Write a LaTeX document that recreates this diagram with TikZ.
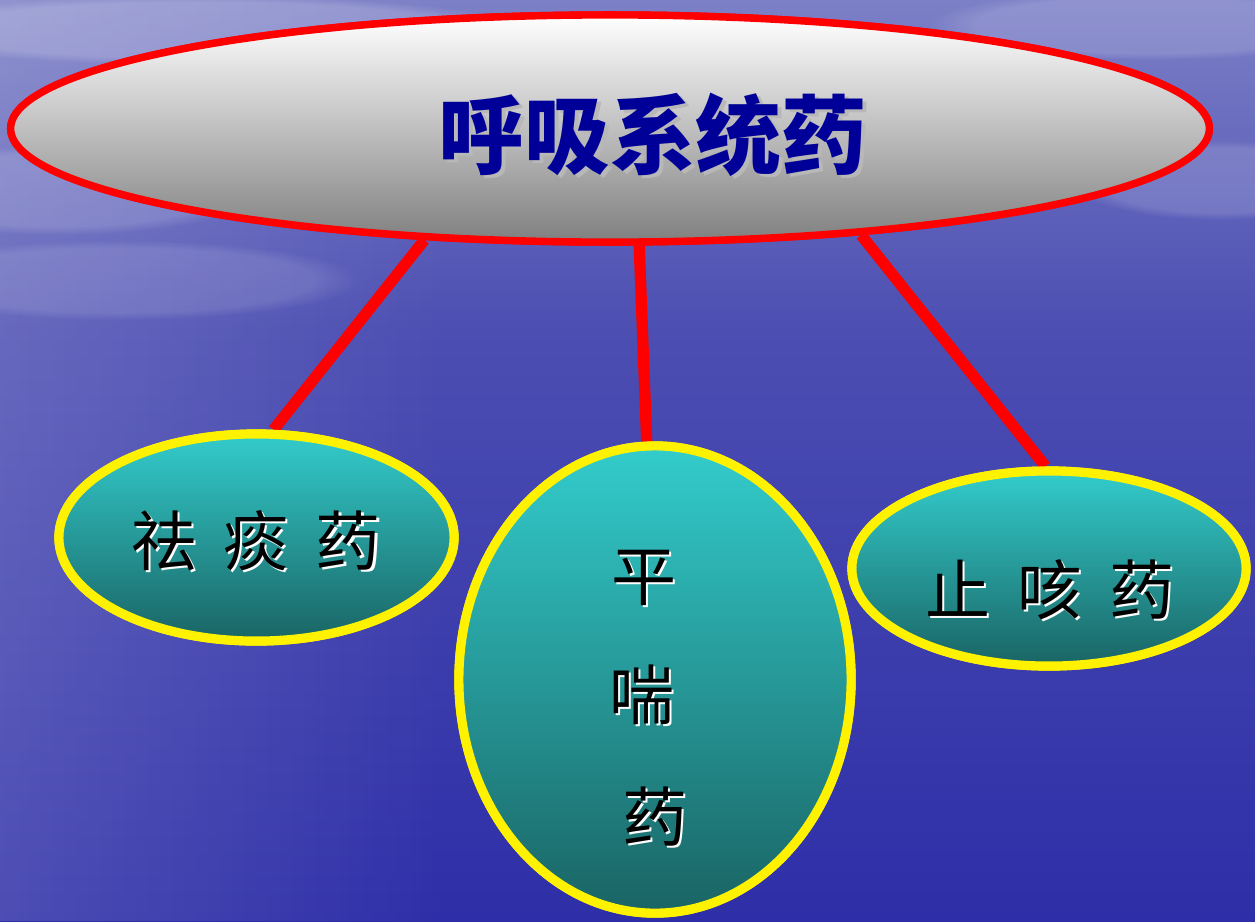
\documentclass[tikz,border=0pt]{standalone}
\usepackage{fontspec}
\newfontfamily\cjk{Noto Sans CJK SC}
\usetikzlibrary{shapes.geometric,fadings}
\definecolor{bgtop}{HTML}{7C80C6}
\definecolor{bgmid}{HTML}{4C4EB2}
\definecolor{bgbot}{HTML}{2E2EA8}
\definecolor{teal1}{HTML}{33CCCC}
\definecolor{teal2}{HTML}{1A6464}
\definecolor{titleblue}{HTML}{000099}
\tikzset{
  topbox/.style={ellipse, draw=red, line width=2.1pt, top color=white, bottom color=black!50, inner sep=0pt},
  subbox/.style={ellipse, draw=yellow, line width=2.6pt, top color=teal1, bottom color=teal2, inner sep=0pt},
  link/.style={red, line width=3.2pt},
  subtext/.style={font=\cjk\fontsize{18.5}{22}\selectfont, inner sep=0pt},
  cloud/.style={white, path fading=circle with fuzzy edge 20 percent}
}
\newcommand{\gapsp}{\hspace{0.27cm}}
\begin{document}
\begin{tikzpicture}[x=0.01cm, y=-0.01cm]
\useasboundingbox (0,0) rectangle (1255,921);
% background
\fill[top color=bgtop, bottom color=bgmid] (0,0) rectangle (1255,330);
\fill[top color=bgmid, bottom color=bgbot] (0,330) rectangle (1255,921);
\fill[white, path fading=east, fill opacity=0.15] (0,0) rectangle (450,921);
\fill[cloud, fill opacity=0.18] (200,30) ellipse (320 and 35);
\fill[cloud, fill opacity=0.15] (60,190) ellipse (200 and 45);
\fill[cloud, fill opacity=0.15] (1150,25) ellipse (220 and 35);
\fill[cloud, fill opacity=0.15] (1220,180) ellipse (150 and 40);
\fill[cloud, fill opacity=0.12] (120,280) ellipse (240 and 40);

% nodes
\node[topbox, minimum width=11.98cm, minimum height=2.27cm] (T) at (610,128.5) {};
\node[subbox, minimum width=3.95cm, minimum height=2.07cm] (L) at (256.5,537.5) {};
\node[subbox, minimum width=3.92cm, minimum height=4.67cm] (M) at (655,679.5) {};
\node[subbox, minimum width=3.94cm, minimum height=1.95cm] (R) at (1049,568.5) {};

% connectors
\draw[link] (T.211) -- (L.81);
\draw[link] (T.284.7) -- (M.92.4);
\draw[link] (T.337.5) -- (R.92);
% redraw ellipses over connector ends
\node[topbox, minimum width=11.98cm, minimum height=2.27cm] (T2) at (T) {};
\node[subbox, minimum width=3.95cm, minimum height=2.07cm] (L2) at (L) {};
\node[subbox, minimum width=3.92cm, minimum height=4.67cm] (M2) at (M) {};
\node[subbox, minimum width=3.94cm, minimum height=1.95cm] (R2) at (R) {};

% title
\node[font=\cjk\bfseries\fontsize{24.4}{28}\selectfont, text=black!28, inner sep=0pt] (tts) at (657,138) {呼吸系统药};
\node[font=\cjk\bfseries\fontsize{24.4}{28}\selectfont, text=titleblue, inner sep=0pt] (tt) at (653,135) {呼吸系统药};

% sub texts
\node[subtext, text=white] (ls) at (258.5,543) {祛\gapsp 痰\gapsp 药};
\node[subtext, text=black] (lt) at (256,541) {祛\gapsp 痰\gapsp 药};
\node[subtext, text=white] (rs) at (1052,592) {止\gapsp 咳\gapsp 药};
\node[subtext, text=black] (rt) at (1050,590) {止\gapsp 咳\gapsp 药};
\node[subtext, text=white] (m1s) at (646.5,580) {平};
\node[subtext, text=black] (m1) at (644,578) {平};
\node[subtext, text=white] (m2s) at (644.5,697) {喘};
\node[subtext, text=black] (m2) at (642,695) {喘};
\node[subtext, text=white] (m3s) at (657.5,819) {药};
\node[subtext, text=black] (m3) at (655,817) {药};
\end{tikzpicture}
\end{document}
